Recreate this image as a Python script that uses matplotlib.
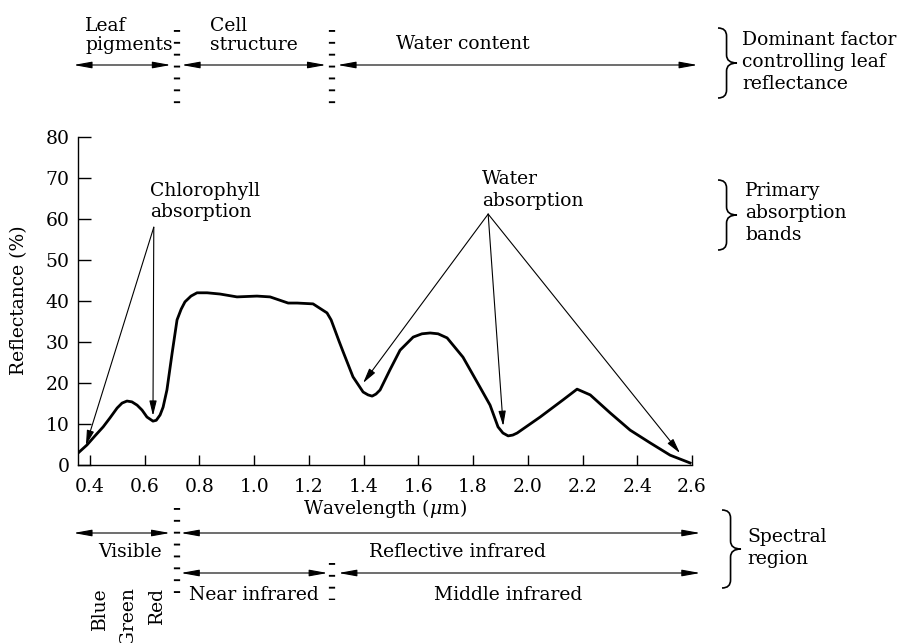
import numpy as np
import matplotlib
matplotlib.use("Agg")
import matplotlib.pyplot as plt
import matplotlib.transforms as mtransforms
from matplotlib.patches import FancyArrowPatch, PathPatch
from matplotlib.path import Path

# ---- data ----
wavelength = [0.356, 0.389, 0.418, 0.448, 0.473, 0.499, 0.517, 0.535, 0.553, 0.572,
              0.590, 0.608, 0.630, 0.642, 0.656, 0.667, 0.681, 0.700, 0.718, 0.733,
              0.747, 0.769, 0.791, 0.828, 0.875, 0.937, 1.010, 1.058, 1.124, 1.157,
              1.215, 1.266, 1.281, 1.295, 1.310, 1.325, 1.361, 1.398, 1.416, 1.431,
              1.445, 1.460, 1.496, 1.533, 1.581, 1.613, 1.643, 1.672, 1.705, 1.763,
              1.825, 1.862, 1.891, 1.909, 1.928, 1.945, 1.961, 2.045, 2.129, 2.180,
              2.228, 2.301, 2.374, 2.447, 2.520, 2.593]
reflectance = [2.9, 4.9, 7.1, 9.3, 11.5, 13.9, 15.1, 15.6, 15.4, 14.6,
               13.4, 11.7, 10.7, 10.9, 12.2, 14.1, 18.3, 27.3, 35.4, 38.0,
               39.8, 41.2, 42.0, 42.0, 41.7, 41.0, 41.2, 41.0, 39.5, 39.5,
               39.3, 37.1, 35.4, 32.9, 30.2, 27.6, 21.5, 17.8, 17.1, 16.8,
               17.3, 18.3, 23.2, 28.0, 31.2, 32.0, 32.2, 32.0, 31.0, 26.3,
               19.0, 14.6, 9.3, 7.8, 7.1, 7.3, 7.8, 11.7, 15.9, 18.5,
               17.1, 12.7, 8.5, 5.4, 2.4, 0.5]
xticks = [0.4, 0.6, 0.8, 1.0, 1.2, 1.4, 1.6, 1.8, 2.0, 2.2, 2.4, 2.6]
yticks = [0, 10, 20, 30, 40, 50, 60, 70, 80]

# absorption band pointers: label point -> targets on the curve
chl_from = (0.633, 58.0)
chl_to = [(0.385, 4.8), (0.630, 12.0)]
water_from = (1.855, 61.2)
water_to = [(1.398, 20.0), (1.910, 9.5), (2.556, 2.9)]

# band extents (um)
factor_bands = [(0.34, 0.695), (0.735, 1.262), (1.305, 2.62)]
region_row1 = [(0.34, 0.692), (0.732, 2.63)]
region_row2 = [(0.732, 1.268), (1.308, 2.63)]
dividers = [0.716, 1.285]

W, H = 910, 643
plt.rcParams.update({"font.family": "DejaVu Serif", "mathtext.fontset": "dejavuserif"})
FS = 13.5
fig = plt.figure(figsize=(W / 100, H / 100), dpi=100)
ax = fig.add_axes([78 / W, (H - 465) / H, 614 / W, 328 / H])

ax.plot(wavelength, reflectance, color="black", lw=2.0, solid_joinstyle="round")
ax.set_xticks(xticks)
ax.set_xticklabels([f"{v:.1f}" for v in xticks])
ax.set_yticks(yticks)
for s in ["top", "right"]:
    ax.spines[s].set_visible(False)
for s in ["left", "bottom"]:
    ax.spines[s].set_linewidth(1.0)
ax.tick_params(axis="x", direction="in", length=7, width=1, pad=9, labelsize=FS)
ax.tick_params(axis="y", direction="in", length=9, width=1, pad=6, labelsize=FS)

# pixel transform (origin top-left) and blended (x in um, y in px)
px = mtransforms.Affine2D().scale(1 / W, -1 / H).translate(0, 1) + fig.transFigure
blend = mtransforms.blended_transform_factory(ax.transData, px)

def arrow(a, b, trans, style, lw=0.8):
    p = FancyArrowPatch(a, b, transform=trans, arrowstyle=style, mutation_scale=1,
                        lw=lw, color="black", shrinkA=0, shrinkB=0, clip_on=False)
    fig.add_artist(p)

head = "-|>,head_length=9,head_width=2.2"
for t in chl_to:
    arrow(chl_from, t, ax.transData, head)
for t in water_to:
    arrow(water_from, t, ax.transData, head)

both = "<|-|>,head_length=11,head_width=2.0"
for a, b in factor_bands:
    arrow((a, 65), (b, 65), blend, both)
for a, b in region_row1:
    arrow((a, 533), (b, 533), blend, both)
for a, b in region_row2:
    arrow((a, 573), (b, 573), blend, both)

def divider(x, y0, y1):
    ax.plot([x, x], [y0, y1], transform=blend, clip_on=False, color="black",
            lw=4.5, dashes=(0.3, 1.6), dash_capstyle="butt")

for d in dividers:
    divider(d, 30, 108)
divider(dividers[0], 508, 600)
divider(dividers[1], 563, 600)
ax.set_xlim(0.356, 2.6)
ax.set_ylim(0, 80)

def brace(x0, y0, y1, w=19, c=8):
    ym = (y0 + y1) / 2
    xs = x0 + w * 0.45
    xt = x0 + w
    verts = [(x0, y0), (xs, y0), (xs, y0 + c), (xs, ym - c), (xs, ym), (xt, ym),
             (xs, ym), (xs, ym + c), (xs, y1 - c), (xs, y1), (x0, y1)]
    codes = [Path.MOVETO, Path.CURVE3, Path.CURVE3, Path.LINETO, Path.CURVE3, Path.CURVE3,
             Path.CURVE3, Path.CURVE3, Path.LINETO, Path.CURVE3, Path.CURVE3]
    fig.add_artist(PathPatch(Path(verts, codes), transform=px, fill=False, lw=1.2, ec="black"))

brace(718, 28, 98)
brace(718, 180, 250)
brace(722, 510, 588)

# y given as baseline of the last line
def txt(x, y, s, ha="left", va="baseline", ls=1.0, rot=0):
    fig.text(x, y, s, transform=px, ha=ha, va=va, fontsize=FS, linespacing=ls, rotation=rot)

txt(85, 50, "Leaf\npigments", ls=1.08)
txt(210, 50, "Cell\nstructure", ls=1.08)
txt(463, 49, "Water content", ha="center")
txt(742, 89, "Dominant factor\ncontrolling leaf\nreflectance", ls=1.3)
txt(150, 217, "Chlorophyll\nabsorption", ls=1.25)
txt(482, 206, "Water\nabsorption", ls=1.3)
txt(745, 240, "Primary\nabsorption\nbands", ls=1.28)
txt(19, 300, "Reflectance (%)", ha="center", va="center", rot=90)
txt(385, 514, r"Wavelength ($\mu$m)", ha="center")
txt(130, 557, "Visible", ha="center")
txt(457, 557, "Reflective infrared", ha="center")
txt(254, 600, "Near infrared", ha="center")
txt(508, 600, "Middle infrared", ha="center")
txt(747, 564, "Spectral\nregion", ls=1.25)
for x, s in [(100, "Blue"), (128, "Green"), (157, "Red")]:
    txt(x, 587, s, ha="center", va="top", rot=90)

fig.savefig("out.png", dpi=100, facecolor="white")
